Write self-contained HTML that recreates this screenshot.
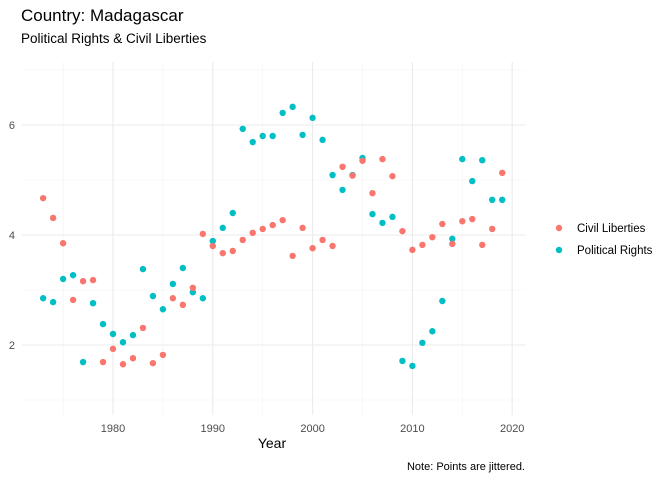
<!DOCTYPE html>
<html><head><meta charset="utf-8">
<style>
body{margin:0;background:#fff;font-family:"Liberation Sans",sans-serif;}
svg text{font-family:"Liberation Sans",sans-serif;}
</style></head>
<body>
<svg id="chart" width="672" height="480" xmlns="http://www.w3.org/2000/svg">
<text x="21" y="21" font-size="17" fill="#000">Country: Madagascar</text>
<text x="21" y="43" font-size="13.5" fill="#000">Political Rights &amp; Civil Liberties</text>
<g id="grid"></g>
<g id="points"></g>
<g id="axes"></g>
<text x="272" y="448" font-size="14" text-anchor="middle" fill="#000">Year</text>
<g>
<g><circle cx="559" cy="228" r="3.2" fill="#F8766D"/><text x="577" y="232" font-size="11.5" fill="#000">Civil Liberties</text></g>
<g><circle cx="559" cy="250" r="3.2" fill="#00BFC4"/><text x="577" y="254" font-size="11.5" fill="#000">Political Rights</text></g>
</g>
<text x="525" y="470" font-size="11" text-anchor="end" fill="#000">Note: Points are jittered.</text>
</svg>
<script>
const years=[1973,1974,1975,1976,1977,1978,1979,1980,1981,1982,1983,1984,1985,1986,1987,1988,1989,1990,1991,1992,1993,1994,1995,1996,1997,1998,1999,2000,2001,2002,2003,2004,2005,2006,2007,2008,2009,2010,2011,2012,2013,2014,2015,2016,2017,2018,2019];
const civilLiberties=[4.67,4.31,3.85,2.82,3.16,3.18,1.69,1.93,1.65,1.76,2.31,1.67,1.82,2.85,2.73,3.04,4.02,3.8,3.67,3.71,3.91,4.04,4.11,4.18,4.27,3.62,4.13,3.76,3.91,3.8,5.24,5.08,5.35,4.76,5.38,5.07,4.07,3.73,3.82,3.96,4.2,3.84,4.25,4.29,3.82,4.11,5.13];
const politicalRights=[2.85,2.78,3.2,3.27,1.69,2.76,2.38,2.2,2.05,2.18,3.38,2.89,2.65,3.11,3.4,2.96,2.85,3.89,4.13,4.4,5.93,5.69,5.8,5.8,6.22,6.33,5.82,6.13,5.73,5.09,4.82,5.09,5.4,4.38,4.22,4.33,1.71,1.62,2.04,2.25,2.8,3.93,5.38,4.98,5.36,4.64,4.64];
const xTicks=[1980,1990,2000,2010,2020];
const xMinor=[1975,1985,1995,2005,2015];
const yTicks=[2,4,6];
const yMinor=[1,3,5,7];
const NS="http://www.w3.org/2000/svg";
const L=22,R=525,T=62,B=415;
const xs=v=>113+(v-1980)*9.98;
const ys=v=>235-(v-4)*55;
const grid=document.getElementById('grid'),pts=document.getElementById('points'),axes=document.getElementById('axes');
function line(x1,y1,x2,y2,c,w,name){const l=document.createElementNS(NS,'line');
l.setAttribute('x1',x1);l.setAttribute('y1',y1);l.setAttribute('x2',x2);l.setAttribute('y2',y2);
l.setAttribute('stroke',c);l.setAttribute('stroke-width',w);


grid.appendChild(l);}
xMinor.forEach(v=>line(xs(v),T,xs(v),B,'#f3f3f3',0.6,'x-minor-gridline'));
yMinor.forEach(v=>line(L,ys(v),R,ys(v),'#f3f3f3',0.6,'y-minor-gridline'));
xTicks.forEach(v=>line(xs(v),T,xs(v),B,'#ebebeb',1.1,'x-major-gridline'));
yTicks.forEach(v=>line(L,ys(v),R,ys(v),'#ebebeb',1.1,'y-major-gridline'));
function txt(x,y,s,anchor,name){const t=document.createElementNS(NS,'text');
t.setAttribute('x',x);t.setAttribute('y',y);t.setAttribute('font-size','11');t.setAttribute('fill','#4d4d4d');t.setAttribute('text-anchor',anchor);t.textContent=s;


axes.appendChild(t);}
xTicks.forEach(v=>txt(xs(v),432,String(v),'middle','x-tick-label'));
yTicks.forEach(v=>txt(15,ys(v)+4,String(v),'end','y-tick-label'));
function dot(x,y,c,name){const d=document.createElementNS(NS,'circle');
d.setAttribute('cx',xs(x));d.setAttribute('cy',ys(y));d.setAttribute('r','3.2');d.setAttribute('fill',c);


pts.appendChild(d);}
years.forEach((yr,i)=>dot(yr,politicalRights[i],'#00BFC4','political-rights-point'));
years.forEach((yr,i)=>dot(yr,civilLiberties[i],'#F8766D','civil-liberties-point'));
</script>
</body></html>
